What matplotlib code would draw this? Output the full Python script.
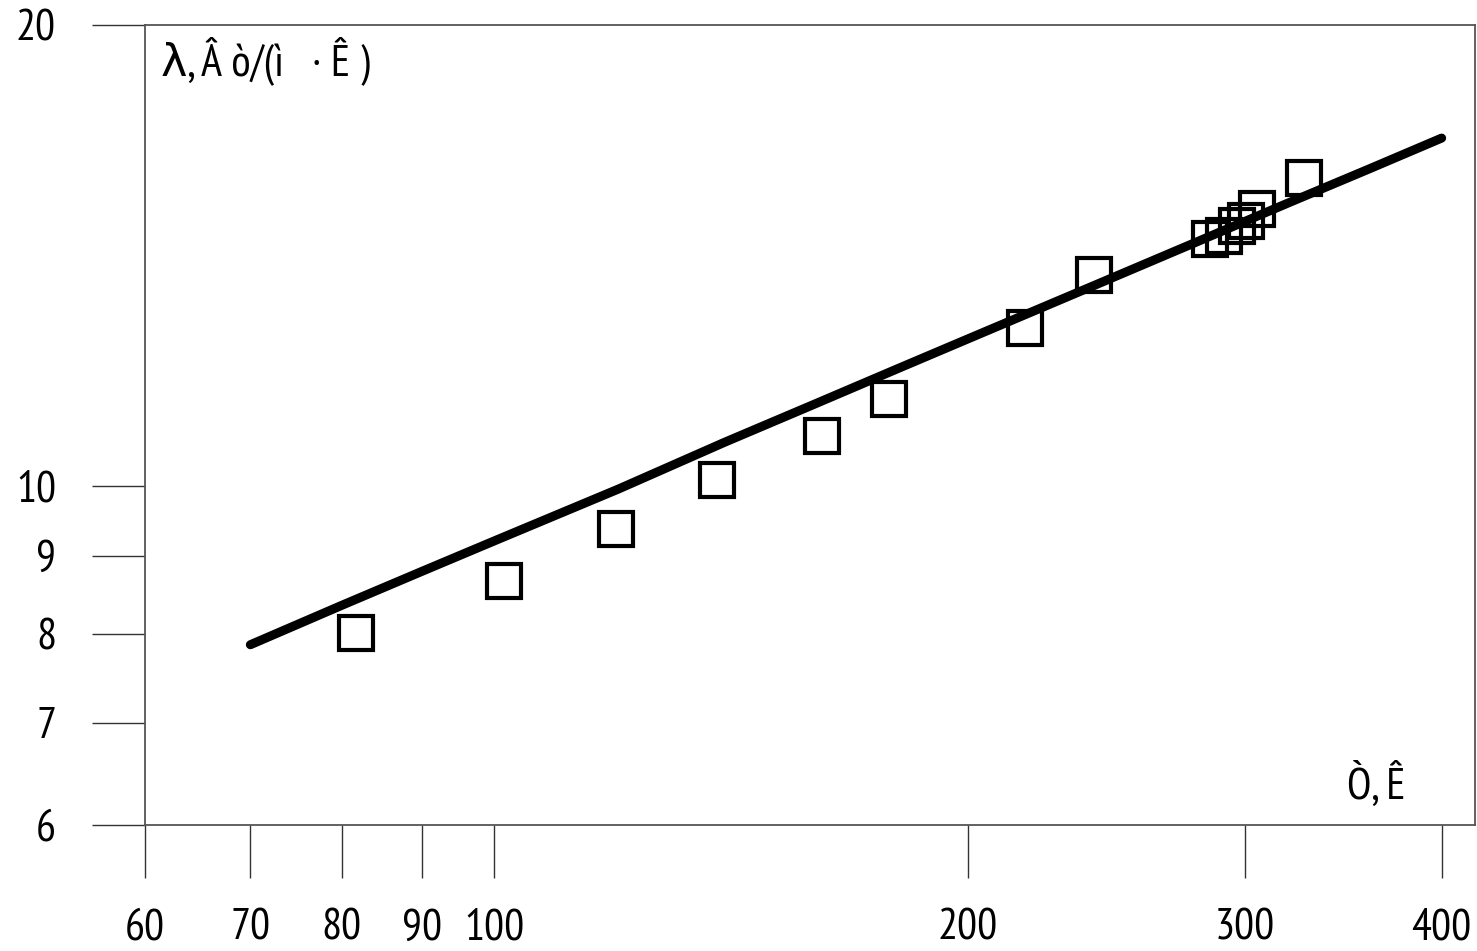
import matplotlib
matplotlib.use("Agg")
import matplotlib.pyplot as plt
from matplotlib.ticker import FixedLocator, NullLocator

# measured points (squares)
T_exp = [81.7, 101.5, 119.6, 138.5, 161.5, 178.1, 217.4, 240.5,
         285.1, 291.0, 296.6, 300.5, 305.4, 327.2]
lam_exp = [8.01, 8.66, 9.37, 10.09, 10.77, 11.39, 12.68, 13.73,
           14.49, 14.56, 14.78, 14.89, 15.16, 15.89]

# fitted curve
T_fit = [70, 80, 90, 100, 120, 140, 160, 180, 200, 240, 280, 320, 360, 400]
lam_fit = [7.87, 8.35, 8.79, 9.20, 9.95, 10.67, 11.31, 11.91, 12.47,
           13.50, 14.44, 15.31, 16.11, 16.87]

x_ticks = [60, 70, 80, 90, 100, 200, 300, 400]
y_ticks = [6, 7, 8, 9, 10, 20]

plt.rcParams["font.family"] = ["PT Sans Narrow", "DejaVu Sans"]

fig = plt.figure(figsize=(14.77, 9.51), dpi=100)
ax = fig.add_axes([145 / 1477, 1 - 825 / 951, 1330 / 1477, 800 / 951])

ax.plot(T_fit, lam_fit, color="black", lw=6.5, solid_capstyle="round",
        solid_joinstyle="round", zorder=3)
ax.plot(T_exp, lam_exp, ls="none", marker="s", ms=25, mfc="none",
        mec="black", mew=3, zorder=4)

ax.set_xscale("log")
ax.set_yscale("log")
ax.set_xlim(60, 420)
ax.set_ylim(6, 20)

ax.xaxis.set_major_locator(FixedLocator(x_ticks))
ax.yaxis.set_major_locator(FixedLocator(y_ticks))
ax.xaxis.set_minor_locator(NullLocator())
ax.yaxis.set_minor_locator(NullLocator())
ax.set_xticklabels([str(v) for v in x_ticks])
ax.set_yticklabels([str(v) for v in y_ticks])
ax.tick_params(direction="out", length=38, width=1, color="#333333",
               labelsize=32)
ax.tick_params(axis="x", pad=22)
ax.tick_params(axis="y", pad=26)

for s in ax.spines.values():
    s.set_color("#555555")
    s.set_linewidth(1.3)

ax.text(0.012, 0.955, "λ, Â ò/(ì   · Ê )", transform=ax.transAxes,
        fontsize=32, va="center", ha="left")
ax.text(0.948, 0.05, "Ò, Ê", transform=ax.transAxes,
        fontsize=32, va="center", ha="right")

fig.savefig("out.png", dpi=100)
